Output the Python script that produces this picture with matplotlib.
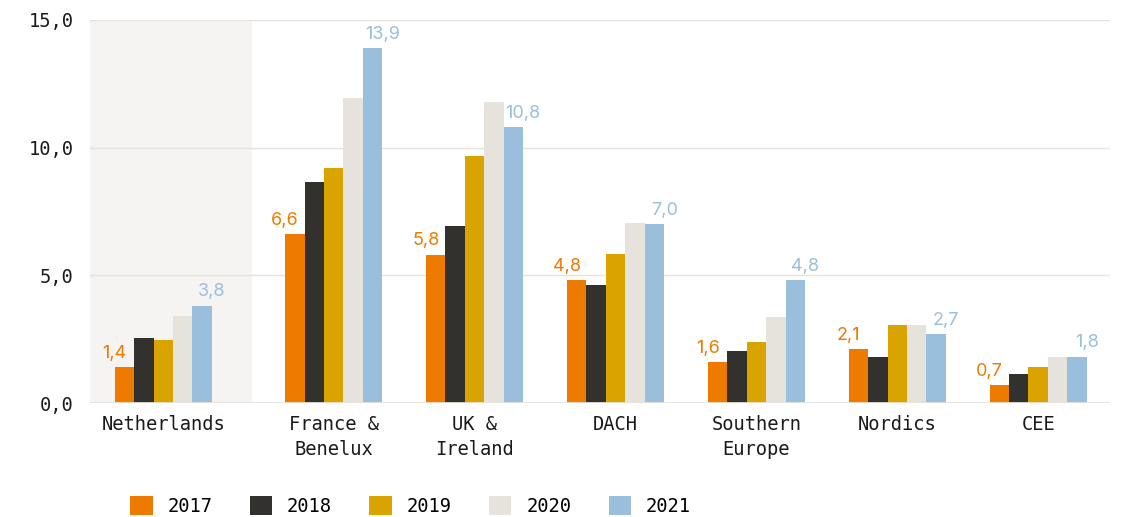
import numpy as np
import matplotlib
matplotlib.use('Agg')
from matplotlib import pyplot as plt
from matplotlib.patches import Patch

plt.rcParams.update({
    "font.family": ["DejaVu Sans Mono"],
    "font.size": 12,
})

regions = ["Netherlands", "France &\nBenelux", "UK &\nIreland", "DACH",
           "Southern\nEurope", "Nordics", "CEE"]
years = ["2017", "2018", "2019", "2020", "2021"]
v2017 = [1.4, 6.6, 5.8, 4.8, 1.6, 2.1, 0.7]
v2018 = [2.55, 8.65, 6.95, 4.62, 2.04, 1.8, 1.15]
v2019 = [2.45, 9.2, 9.67, 5.84, 2.4, 3.05, 1.42]
v2020 = [3.42, 11.95, 11.8, 7.05, 3.35, 3.05, 1.8]
v2021 = [3.8, 13.9, 10.8, 7.0, 4.8, 2.7, 1.8]
series = [v2017, v2018, v2019, v2020, v2021]
colors = ["#EE7A00", "#33312E", "#D9A300", "#E6E3DD", "#9ABFDC"]

fig = plt.figure(figsize=(11.22, 5.17), dpi=100)
ax = fig.add_axes([90/1122, 1-403/517, 1020/1122, 383/517])

# netherlands sits a bit apart from the others
x = np.arange(len(regions)) + np.where(np.arange(len(regions)) > 0, 0.21, 0.0)
w = 0.138

ax.axvspan(-0.6, 0.63, color="#F6F4F2", zorder=0, lw=0)

for i, (vals, c) in enumerate(zip(series, colors)):
    pos = x + (i - 2) * w
    ax.bar(pos, vals, width=w, color=c, zorder=2)
    if i in (0, 4):
        # 2017 label sits over the left edge, 2021 over the right edge
        edge = -w / 2 if i == 0 else w / 2
        for p, v in zip(pos, vals):
            ax.annotate(f"{v:.1f}".replace(".", ","), (p + edge, v),
                        xytext=(0, 4), textcoords="offset points",
                        color=c, ha="center", va="bottom", fontsize=13,
                        family=["Inter", "DejaVu Sans"], zorder=3)

ax.set_xlim(-0.52, x[-1] + 0.51)
ax.set_ylim(0, 15)
ax.set_yticks([0, 5, 10, 15])
ax.set_yticklabels(["0,0", "5,0", "10,0", "15,0"])
ax.set_xticks(x)
ax.set_xticklabels(regions, linespacing=1.35)
ax.tick_params(length=0, labelsize=13.5, colors="#1a1a1a")
ax.tick_params(axis="y", pad=12)
ax.tick_params(axis="x", pad=9)
for y in [5, 10, 15]:
    ax.axhline(y, color="#E6E3DD", lw=1, zorder=1)
ax.axhline(0, color="#E6E3DD", lw=2, zorder=3)
for s in ax.spines.values():
    s.set_visible(False)

handles = [Patch(facecolor=c, edgecolor="none") for c in colors]
fig.legend(handles, years, loc="center left", bbox_to_anchor=(130/1122, 1-506/517),
           ncol=5, frameon=False, handlelength=1.2, handleheight=1.2,
           handletextpad=0.8, columnspacing=1.98, borderpad=0, borderaxespad=0,
           fontsize=13.5)

plt.savefig("out.png", dpi=100)
